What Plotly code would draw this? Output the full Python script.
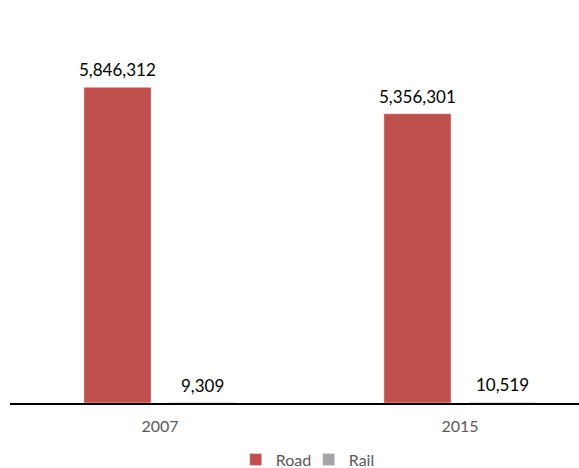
import plotly.graph_objects as go

years = ["2007", "2015"]
road = [5846312, 5356301]
rail = [9309, 10519]

fig = go.Figure()
fig.add_trace(go.Bar(name="Road", x=years, y=road, marker_color="#C0504D"))
fig.add_trace(go.Bar(name="Rail", x=years, y=rail, marker_color="#A5A5A5"))

# value labels above bars (group offsets: road left, rail right)
for series, shift in ((road, -42.5), (rail, 42.5)):
    for i, v in enumerate(series):
        fig.add_annotation(x=i, y=v, text=f"{v:,}", showarrow=False,
                           xshift=shift, yanchor="bottom", yshift=5,
                           font=dict(size=17, color="black", family="Lato"))

fig.update_layout(
    width=579, height=468,
    margin=dict(l=10, r=0, t=25, b=65, autoexpand=False),
    plot_bgcolor="white", paper_bgcolor="white",
    barmode="group", bargap=0.433, bargroupgap=0.21,
    font=dict(family="Lato", size=16, color="#595959"),
    showlegend=True,
    legend=dict(orientation="h", x=0.525, xanchor="center", y=-0.15, yanchor="middle",
                font=dict(size=16, color="#595959"), itemwidth=30, traceorder="normal",
                entrywidth=28, entrywidthmode="pixels"),
    xaxis=dict(type="category", range=[-0.5, 1.3967], showline=True, linecolor="black",
               linewidth=2, ticks="", showgrid=False, ticklabelstandoff=8,
               tickfont=dict(size=16, color="#595959")),
    yaxis=dict(range=[0, 7000000], visible=False, showgrid=False, zeroline=False),
)
fig.write_html("out.html", post_script="document.body.style.margin='0';",
               config={"displayModeBar": False})
